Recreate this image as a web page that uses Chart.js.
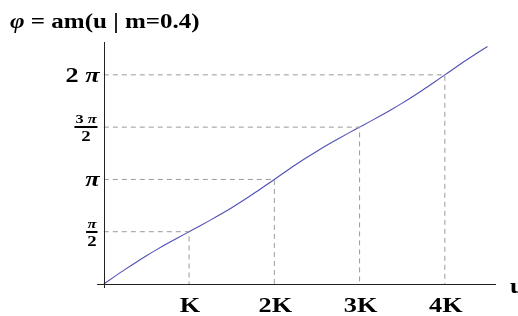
<!DOCTYPE html>
<html>
<head>
<meta charset="utf-8">
<script src="https://cdn.jsdelivr.net/npm/chart.js@4.4.1/dist/chart.umd.min.js"></script>
<style>
  html, body { margin: 0; padding: 0; background: #fff; }
  #wrap { width: 518px; height: 316px; }
</style>
</head>
<body>
<div id="wrap"><canvas id="amChart" width="518" height="316"></canvas></div>
<script>
// --- data (u in units of K, phi in radians) ---
const uValues = [0, 0.125, 0.25, 0.375, 0.5, 0.625, 0.75, 0.875, 1,
  1.125, 1.25, 1.375, 1.5, 1.625, 1.75, 1.875, 2,
  2.125, 2.25, 2.375, 2.5, 2.625, 2.75, 2.875, 3,
  3.125, 3.25, 3.375, 3.5, 3.625, 3.75, 3.875, 4,
  4.125, 4.25, 4.375, 4.5];
const phiValues = [0, 0.2215, 0.4388, 0.6486, 0.8491, 1.0399, 1.2221, 1.3981, 1.5708,
  1.7435, 1.9195, 2.1017, 2.2925, 2.4930, 2.7028, 2.9201, 3.1416,
  3.3630, 3.5804, 3.7902, 3.9907, 4.1815, 4.3637, 4.5397, 4.7124,
  4.8851, 5.0611, 5.2433, 5.4341, 5.6346, 5.8444, 6.0617, 6.2832,
  6.5046, 6.7220, 6.9318, 7.1323];

const xTickValues = [1, 2, 3, 4];
const xTickLabels = ["K", "2K", "3K", "4K"];
const yTickValues = [Math.PI / 2, Math.PI, 3 * Math.PI / 2, 2 * Math.PI];
const yTickNum = ["π", "π", "3 π", "2 π"];
const yTickDen = ["2", "", "2", ""];

const titleText = "φ = am(u | m=0.4)";
const xAxisTitle = "u";

// --- helpers ---
const SERIF = '"Liberation Serif", "Times New Roman", serif';
const STRETCH = 1.25; // the original text is drawn a bit wide

// draws text where the greek letters are bold italic, the rest bold
function drawMixed(ctx, str, x, y, size, align, dryRun) {
  const parts = [];
  for (const ch of str) {
    const greek = /[πφ]/.test(ch);
    const last = parts[parts.length - 1];
    if (last && last.greek === greek) last.text += ch;
    else parts.push({ text: ch, greek: greek });
  }
  let total = 0;
  parts.forEach(p => {
    ctx.font = (p.greek ? "italic bold " : "bold ") + size + "px " + SERIF;
    p.w = ctx.measureText(p.text).width * STRETCH;
    total += p.w;
  });
  if (dryRun) return total;
  let cx = x;
  if (align === "right") cx = x - total;
  else if (align === "center") cx = x - total / 2;
  ctx.textAlign = "left";
  parts.forEach(p => {
    ctx.font = (p.greek ? "italic bold " : "bold ") + size + "px " + SERIF;
    ctx.save();
    ctx.translate(cx, y);
    ctx.scale(STRETCH, 1);
    ctx.fillText(p.text, 0, 0);
    ctx.restore();
    cx += p.w;
  });
  return total;
}

// --- guide lines (dashed) built from the tick arrays ---
const guideSets = xTickValues.map((u, i) => ({
  data: [{ x: 0, y: yTickValues[i] }, { x: u, y: yTickValues[i] }, { x: u, y: 0 }],
  borderColor: "#9a9a9a",
  borderWidth: 1,
  borderDash: [5, 4],
  pointRadius: 0,
  fill: false,
  tension: 0,
}));

const axesPlugin = {
  id: "axesPlugin",
  afterDatasetsDraw(chart) {
    const ctx = chart.ctx;
    const xs = chart.scales.x;
    const ys = chart.scales.y;
    const area = chart.chartArea;
    const x0 = Math.round(xs.getPixelForValue(0)) + 0.5;
    const y0 = Math.round(ys.getPixelForValue(0)) + 0.5;
    ctx.save();
    ctx.strokeStyle = "#222";
    ctx.lineWidth = 1;
    ctx.beginPath();
    ctx.moveTo(area.left, y0);
    ctx.lineTo(area.right, y0);
    ctx.moveTo(x0, area.top);
    ctx.lineTo(x0, area.bottom);
    ctx.stroke();

    ctx.fillStyle = "#000";
    ctx.textBaseline = "alphabetic";
    // x tick labels
    xTickValues.forEach((v, i) => {
      drawMixed(ctx, xTickLabels[i], xs.getPixelForValue(v) + 1, y0 + 27, 21, "center");
    });
    // x axis title
    drawMixed(ctx, xAxisTitle, 510, y0 + 8, 21, "left");

    // y tick labels
    yTickValues.forEach((v, i) => {
      const py = ys.getPixelForValue(v);
      if (yTickDen[i]) {
        const rx = x0 - 7;
        const wn = drawMixed(ctx, yTickNum[i], 0, 0, 13, "left", true);
        const wd = drawMixed(ctx, yTickDen[i], 0, 0, 15, "left", true);
        const w = Math.max(wn, wd) + 2;
        const cx = rx - w / 2;
        drawMixed(ctx, yTickNum[i], cx, py - 4, 13, "center");
        ctx.fillRect(rx - w, Math.round(py) - 1, w, 2);
        drawMixed(ctx, yTickDen[i], cx, py + 14, 15, "center");
      } else {
        drawMixed(ctx, yTickNum[i], x0 - 5, py + 7, 21, "right");
      }
    });

    // title
    drawMixed(ctx, titleText, 10, 28, 20, "left");
    ctx.restore();
  },
};

window.addEventListener("load", function () {
  const canvas = document.getElementById("amChart");
  new Chart(canvas.getContext("2d"), {
    type: "line",
    data: {
      datasets: guideSets.concat([{
        data: uValues.map((u, i) => ({ x: u, y: phiValues[i] })),
        borderColor: "#4f4fb8",
        borderWidth: 1.1,
        pointRadius: 0,
        fill: false,
        tension: 0.4,
        cubicInterpolationMode: "monotone",
      }]),
    },
    options: {
      responsive: false,
      animation: false,
      devicePixelRatio: 1,
      layout: { padding: { left: 97, right: 22, top: 42, bottom: 28 } },
      plugins: { legend: { display: false }, tooltip: { enabled: false } },
      scales: {
        x: { type: "linear", min: -0.08, max: 4.6, display: false },
        y: { type: "linear", min: -0.12, max: 7.27, display: false },
      },
    },
    plugins: [axesPlugin],
  });
});
</script>
</body>
</html>
